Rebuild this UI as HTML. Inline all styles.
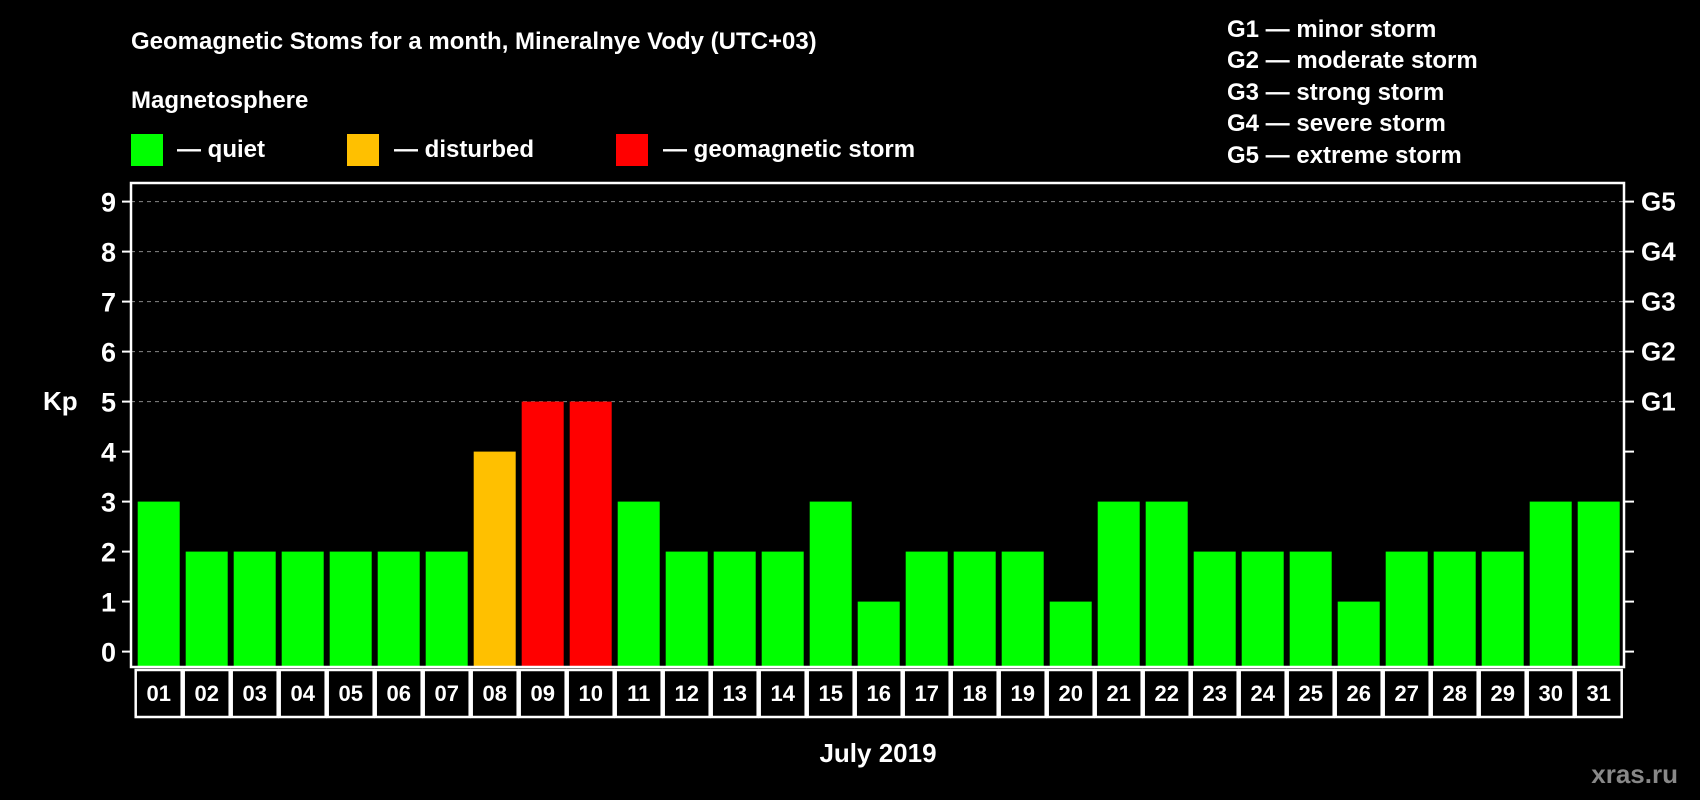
<!DOCTYPE html>
<html><head><meta charset="utf-8"><style>
html,body{margin:0;padding:0;background:#000;}
svg{display:block;font-family:"Liberation Sans",Arial,sans-serif;font-weight:bold;}
</style></head><body>
<svg id="chart" width="1700" height="800" viewBox="0 0 1700 800">
<rect width="1700" height="800" fill="#000"/>
<text x="131" y="49" fill="#fff" font-size="24">Geomagnetic Stoms for a month, Mineralnye Vody (UTC+03)</text>
<text x="131" y="108" fill="#fff" font-size="24">Magnetosphere</text>
<rect x="131" y="134" width="32" height="32" fill="#00ff00"/>
<text x="177" y="157" fill="#fff" font-size="24">— quiet</text>
<rect x="347" y="134" width="32" height="32" fill="#ffc000"/>
<text x="394" y="157" fill="#fff" font-size="24">— disturbed</text>
<rect x="616" y="134" width="32" height="32" fill="#ff0000"/>
<text x="663" y="157" fill="#fff" font-size="24">— geomagnetic storm</text>
<g fill="#fff" font-size="24">
<text x="1227" y="37">G1 — minor storm</text>
<text x="1227" y="68">G2 — moderate storm</text>
<text x="1227" y="100">G3 — strong storm</text>
<text x="1227" y="131">G4 — severe storm</text>
<text x="1227" y="163">G5 — extreme storm</text>
</g>
<text x="43" y="410" fill="#fff" font-size="26">Kp</text>
<text x="878" y="762" fill="#fff" font-size="26" text-anchor="middle">July 2019</text>
<text x="1678" y="783" fill="#888" font-size="26" text-anchor="end">xras.ru</text>
<g id="grid"></g><g id="bars"></g><g id="axes"></g><g id="xlabels"></g>
</svg>
<script>
const days = ["01","02","03","04","05","06","07","08","09","10","11","12","13","14","15","16","17","18","19","20","21","22","23","24","25","26","27","28","29","30","31"];
const kp = [3,2,2,2,2,2,2,4,5,5,3,2,2,2,3,1,2,2,2,1,3,3,2,2,2,1,2,2,2,3,3];
const yTicks = [0,1,2,3,4,5,6,7,8,9];
const gLabels = ["G1","G2","G3","G4","G5"];
const gLevels = [5,6,7,8,9];
const NS="http://www.w3.org/2000/svg";
const L=131,R=1624,T=183,B=667;
const y=v=>651.6-v*50;
const x0=137.7,pitch=48,bw=42;
const x=i=>x0+i*pitch;
function mk(tag,attrs,parent){const e=document.createElementNS(NS,tag);for(const k in attrs)e.setAttribute(k,attrs[k]);parent.appendChild(e);return e;}
const grid=document.getElementById('grid'),bars=document.getElementById('bars'),axes=document.getElementById('axes'),xl=document.getElementById('xlabels');
gLevels.forEach((v,i)=>{
 const ln=mk('line',{x1:L,x2:R,y1:y(v),y2:y(v),stroke:'#888','stroke-width':1,'stroke-dasharray':'4,4'},grid);
 
 
 const t=mk('text',{x:1641,y:y(v)+9,fill:'#fff','font-size':26},axes);t.textContent=gLabels[i];
 
 
});
kp.forEach((v,i)=>{
 const c=v>=5?'#ff0000':(v>=4?'#ffc000':'#00ff00');
 const r=mk('rect',{x:x(i),y:y(v),width:bw,height:y(0)-y(v)+15,fill:c},bars);
 
 
 const b=mk('rect',{x:x(i)-2,y:670,width:pitch-2,height:47,fill:'none',stroke:'#fff','stroke-width':2.5},xl);
 
 
 const t=mk('text',{x:x(i)+bw/2,y:701,fill:'#fff','font-size':22,'text-anchor':'middle'},xl);t.textContent=days[i];
 
 
});
const fr=mk('rect',{x:L,y:T,width:R-L,height:B-T,fill:'none',stroke:'#fff','stroke-width':2.5},axes);


yTicks.forEach(v=>{
 const a=mk('line',{x1:122,x2:L,y1:y(v),y2:y(v),stroke:'#fff','stroke-width':2},axes);
 
 
 const b=mk('line',{x1:R,x2:1634,y1:y(v),y2:y(v),stroke:'#fff','stroke-width':2},axes);
 
 
 const t=mk('text',{x:116,y:y(v)+10,fill:'#fff','font-size':27,'text-anchor':'end'},axes);t.textContent=v;
 
 
});
</script>
</body></html>
